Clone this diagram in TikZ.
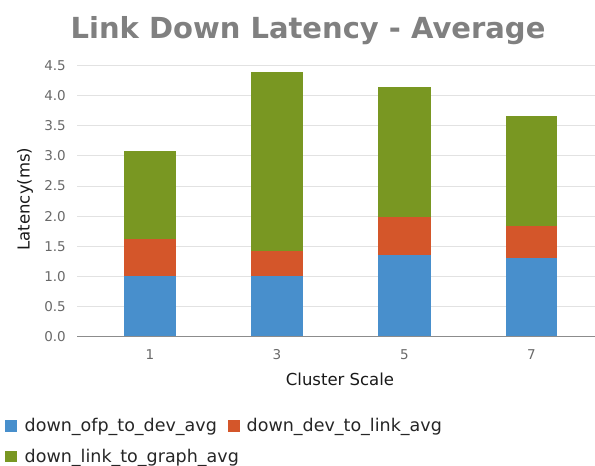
\documentclass[tikz,border=0pt]{standalone}
\usepackage{fontspec}
\setmainfont{DejaVu Sans}
\definecolor{serA}{RGB}{72,143,204}
\definecolor{serB}{RGB}{212,86,42}
\definecolor{serC}{RGB}{121,151,34}
\definecolor{gridc}{RGB}{226,226,226}
\definecolor{axisc}{RGB}{140,140,140}
\definecolor{tickc}{RGB}{105,105,105}
\definecolor{titlec}{RGB}{128,128,128}
\newcommand{\ypx}[1]{336.5-60.2*#1}
% one stacked bar: left, right, three cumulative tops
\newcommand{\stackbar}[5]{%
  \fill[serA] (#1,{\ypx{0}}) rectangle (#2,{\ypx{#3}});
  \fill[serB] (#1,{\ypx{#3}}) rectangle (#2,{\ypx{#4}});
  \fill[serC] (#1,{\ypx{#4}}) rectangle (#2,{\ypx{#5}});
}
\begin{document}
\begin{tikzpicture}[x=1pt,y=-1pt,
  ticklab/.style={text=tickc,font=\fontsize{13.5}{15}\selectfont,inner sep=0pt},
  axlab/.style={text=black!90,font=\fontsize{16.5}{18}\selectfont,inner sep=0pt},
  legtext/.style={text=black!85,font=\fontsize{17.5}{20}\selectfont,inner sep=0pt,anchor=base west},
  gridline/.style={gridc,line width=1pt}]
\useasboundingbox (0,0) rectangle (595,466);
\fill[white] (0,0) rectangle (595,466);

% title
\node[text=titlec,font=\bfseries\fontsize{29}{32}\selectfont,inner sep=0pt,anchor=base] (title) at (308,38.3) {Link Down Latency - Average};

% grid and value labels
\foreach \v/\t [count=\i] in {0.5/0.5,1/1.0,1.5/1.5,2/2.0,2.5/2.5,3/3.0,3.5/3.5,4/4.0,4.5/4.5}{
  \draw[gridline] (77,{\ypx{\v}}) -- (595,{\ypx{\v}});
  \node[ticklab,anchor=east] (yt\i) at (66,{\ypx{\v}}) {\t};
}
\node[ticklab,anchor=east] (yt0) at (66,{\ypx{0}}) {0.0};

% bars
\stackbar{124}{176}{1.0}{1.62}{3.08}
\stackbar{251}{303}{1.0}{1.415}{4.40}
\stackbar{378}{431}{1.36}{1.985}{4.145}
\stackbar{506}{557}{1.31}{1.83}{3.66}

% category axis
\draw[axisc,line width=1.4pt] (77,{\ypx{0}}) -- (595,{\ypx{0}});
\foreach \c/\x in {1/150,3/277,5/404.5,7/531.5}{
  \node[ticklab] (xt\c) at (\x,355) {\c};
}
\node[axlab] (xlab) at (340,379) {Cluster Scale};
\node[axlab,rotate=90] (ylab) at (25,199) {Latency(ms)};

% legend
\fill[serA] (5,420) rectangle (16.5,431.5);
\node[legtext] (legA) at (24.5,431.5) {down\_ofp\_to\_dev\_avg};
\fill[serB] (228,420) rectangle (239.5,431.5);
\node[legtext] (legB) at (246.5,431.5) {down\_dev\_to\_link\_avg};
\fill[serC] (5,450.8) rectangle (16.5,462.3);
\node[legtext] (legC) at (24.5,462.3) {down\_link\_to\_graph\_avg};
\end{tikzpicture}
\end{document}
